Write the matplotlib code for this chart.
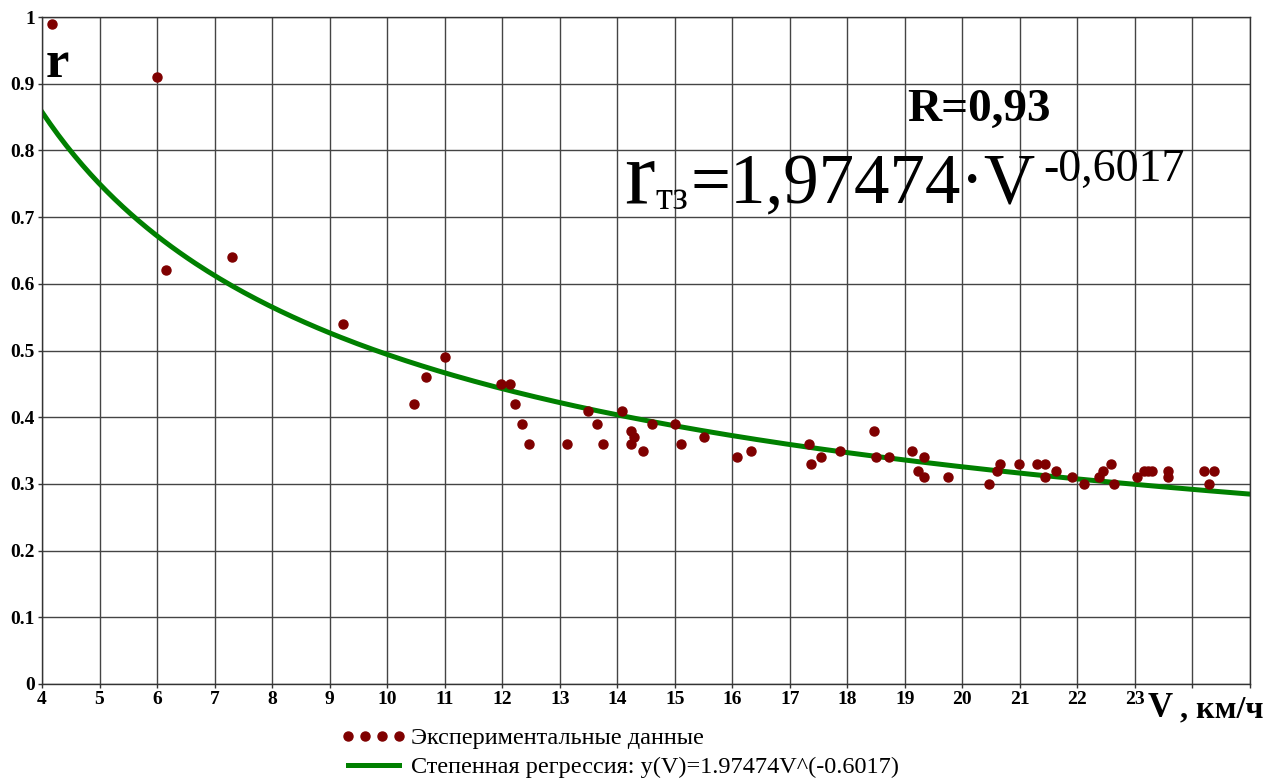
import numpy as np
import matplotlib
matplotlib.use("Agg")
import matplotlib.pyplot as plt
from matplotlib.lines import Line2D

plt.rcParams['font.family'] = ['Liberation Serif', 'DejaVu Serif']

# Experimental data (V, km/h ; r)
v_exp = [4.17, 6.0, 6.16, 7.3, 9.23, 10.47, 10.68, 11.0, 11.98, 12.14, 12.23, 12.35,
         12.47, 13.13, 13.5, 13.65, 13.75, 14.09, 14.24, 14.3, 14.24, 14.45, 14.6,
         15.0, 15.1, 15.5, 16.08, 16.33, 17.34, 17.37, 17.55, 17.87, 18.47, 18.49,
         18.73, 19.12, 19.33, 19.22, 19.33, 19.75, 20.46, 20.6, 20.65, 20.98, 21.29,
         21.44, 21.44, 21.63, 21.91, 22.12, 22.38, 22.44, 22.59, 22.63, 23.04, 23.16,
         23.23, 23.29, 23.58, 23.58, 24.2, 24.29, 24.37]
r_exp = [0.99, 0.91, 0.62, 0.64, 0.54, 0.42, 0.46, 0.49, 0.45, 0.45, 0.42, 0.39,
         0.36, 0.36, 0.41, 0.39, 0.36, 0.41, 0.38, 0.37, 0.36, 0.35, 0.39,
         0.39, 0.36, 0.37, 0.34, 0.35, 0.36, 0.33, 0.34, 0.35, 0.38, 0.34,
         0.34, 0.35, 0.34, 0.32, 0.31, 0.31, 0.30, 0.32, 0.33, 0.33, 0.33,
         0.33, 0.31, 0.32, 0.31, 0.30, 0.31, 0.32, 0.33, 0.30, 0.31, 0.32,
         0.32, 0.32, 0.32, 0.31, 0.32, 0.30, 0.32]

# Power regression coefficients
coef_a = 1.97474
coef_b = -0.6017
v_fit = np.linspace(4, 25, 300)
r_fit = coef_a * v_fit ** coef_b

x_ticks = list(range(4, 26))
x_labels = [str(t) if t <= 23 else '' for t in x_ticks]
y_ticks = [0, 0.1, 0.2, 0.3, 0.4, 0.5, 0.6, 0.7, 0.8, 0.9, 1.0]
y_labels = ['0', '0.1', '0.2', '0.3', '0.4', '0.5', '0.6', '0.7', '0.8', '0.9', '1']

W, H = 1280, 778
fig = plt.figure(figsize=(W / 100, H / 100), dpi=100)
ax = fig.add_axes([42 / W, 1 - 684 / H, (1250 - 42) / W, (684 - 17) / H])

ax.plot(v_fit, r_fit, color='#008000', lw=3.6, zorder=2)
ax.plot(v_exp, r_exp, linestyle='none', marker='o', ms=6.5, color='#7f0000', zorder=3)

ax.set_xlim(4, 25)
ax.set_ylim(0, 1)
ax.set_xticks(x_ticks)
ax.set_xticklabels(x_labels, fontsize=14, fontweight='bold')
ax.set_yticks(y_ticks)
ax.set_yticklabels(y_labels, fontsize=14, fontweight='bold')
ax.tick_params(axis='both', direction='out', length=3, width=1, color='#333333', pad=2)
ax.grid(True, color='#444444', lw=1)
ax.set_axisbelow(True)
for s in ax.spines.values():
    s.set_color('#333333')
    s.set_linewidth(1)


def ftext(px, py, s, **kw):
    return fig.text(px / W, 1 - py / H, s, ha='left', va='baseline', **kw)


# "r" axis title
ftext(46, 77, 'r', fontsize=38, fontweight='bold')
# Correlation coefficient
ftext(907, 121, 'R=0,93', fontsize=34, fontweight='bold')

# Regression formula, composed piece by piece
ftext(624, 204, 'r', fontsize=66)
ftext(655, 209, 'тз', fontsize=28)
ftext(690, 203, '=1,97474·V', fontsize=51)
ftext(1043, 181, '-0,6017', fontsize=33)

# Axis label
ftext(1148, 717, 'V', fontsize=25, fontweight='bold')
ftext(1180, 717, ', км/ч', fontsize=23, fontweight='bold')

# Legend
h_pts = Line2D([], [], linestyle='none', marker='o', ms=6.5, color='#7f0000')
h_line = Line2D([], [], color='#008000', lw=3.6)
fig.legend([h_pts, h_line],
           ['Экспериментальные данные', 'Степенная регрессия: y(V)=1.97474V^(-0.6017)'],
           loc='upper left', bbox_to_anchor=(341 / W, 1 - 727 / H), frameon=False,
           numpoints=4, handlelength=2.7, handletextpad=0.2, labelspacing=0.3,
           borderaxespad=0, borderpad=0, prop={'size': 17.5})

fig.savefig('out.png', dpi=100)
